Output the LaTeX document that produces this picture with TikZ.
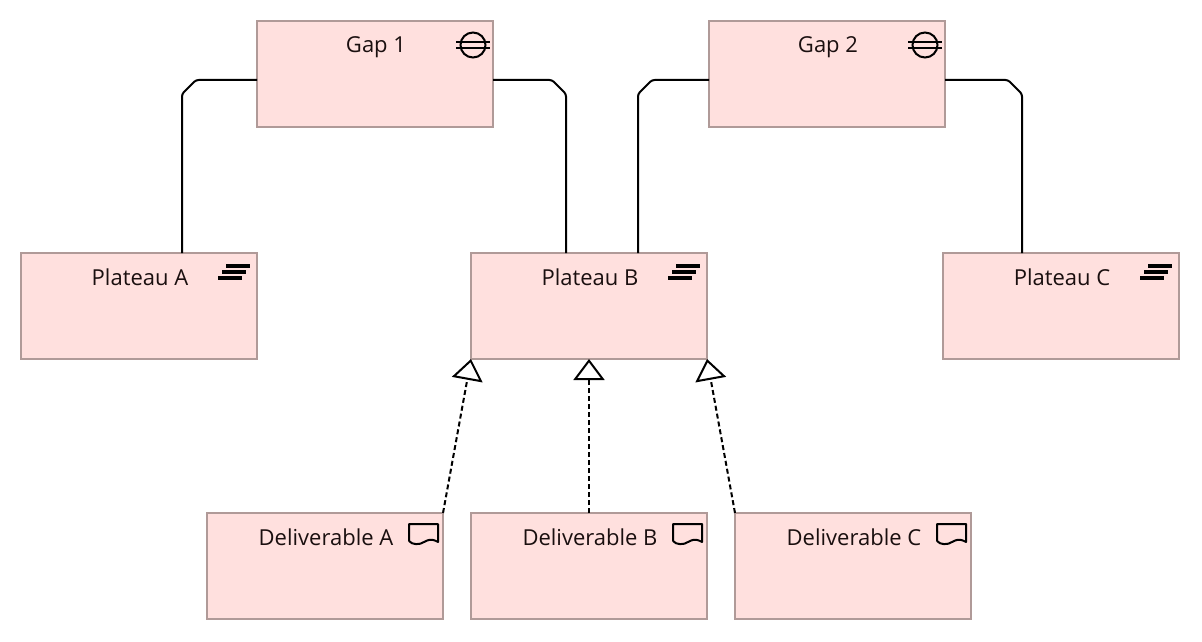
\documentclass[tikz,border=0pt]{standalone}
\usepackage{fontspec}
\setmainfont{Open Sans}
\usetikzlibrary{arrows.meta,calc}
\definecolor{boxfill}{HTML}{FFE0DE}
\definecolor{boxline}{HTML}{B09A98}
\definecolor{txt}{HTML}{1A0F0F}
\tikzset{
  element/.style={draw=boxline,fill=boxfill,line width=2.4pt,minimum width=236pt,minimum height=106pt,inner sep=0pt,outer sep=0pt,anchor=north west},
  lab/.style={anchor=north,xshift=1pt,yshift=-15.5pt,inner sep=0pt,font=\fontsize{22}{25}\selectfont,text=txt},
  assoc/.style={draw=black,line width=2pt,rounded corners=2.5pt,line join=round},
  realize/.style={draw=black,line width=2pt,dash pattern=on 5pt off 3pt,-{Triangle[open,length=21pt,width=31pt,line width=2pt,fill=white,sep=0pt]}},
  gapicon/.pic={
    \draw[black,line width=2pt] (-20,24) circle[radius=12.5];
    \draw[black,line width=2pt] (-37,21)--(-3,21) (-37,27)--(-3,27);
  },
  plateauicon/.pic={
    \fill[black] (-31,11) rectangle (-7,15);
    \fill[black] (-35,17) rectangle (-11,21);
    \fill[black] (-39,23) rectangle (-15,27);
  },
  delivicon/.pic={
    \draw[black,line width=2pt,line join=round] (-34,28) -- (-34,11) -- (-5,11) -- (-5,29) .. controls (-12,25) and (-15,27) .. (-19,29) .. controls (-23,32) and (-31,32) .. (-34,28);
  }
}
\begin{document}
\begin{tikzpicture}[x=1pt,y=-1pt]
\useasboundingbox (0,0) rectangle (1202,642);
\fill[white] (0,0) rectangle (1202,642);

\node[element,label={[lab]north:Gap 1}] (g1) at (257,21) {};
\node[element,label={[lab]north:Gap 2}] (g2) at (709,21) {};
\node[element,label={[lab]north:Plateau A}] (pa) at (21,253) {};
\node[element,label={[lab]north:Plateau B}] (pb) at (471,253) {};
\node[element,label={[lab]north:Plateau C}] (pc) at (943,253) {};
\node[element,label={[lab]north:Deliverable A}] (da) at (207,513) {};
\node[element,label={[lab]north:Deliverable B}] (db) at (471,513) {};
\node[element,label={[lab]north:Deliverable C}] (dc) at (735,513) {};

\pic at (g1.north east) {gapicon};
\pic at (g2.north east) {gapicon};
\pic at (pa.north east) {plateauicon};
\pic at (pb.north east) {plateauicon};
\pic at (pc.north east) {plateauicon};
\pic at (da.north east) {delivicon};
\pic at (db.north east) {delivicon};
\pic at (dc.north east) {delivicon};

\coordinate (g1l) at ($(g1.west)+(0,6)$);
\coordinate (g1r) at ($(g1.east)+(0,6)$);
\coordinate (g2l) at ($(g2.west)+(0,6)$);
\coordinate (g2r) at ($(g2.east)+(0,6)$);
\coordinate (paT) at ($(pa.north)+(43,0)$);
\coordinate (pbL) at ($(pb.north)+(-23,0)$);
\coordinate (pbR) at ($(pb.north)+(49,0)$);
\coordinate (pcT) at ($(pc.north)+(-39,0)$);

\draw[assoc] (g1l) -- ++(-61,0) -- ++(-14,14) -- (paT);
\draw[assoc] (g1r) -- ++(59,0) -- ++(14,14) -- (pbL);
\draw[assoc] (g2l) -- ++(-57,0) -- ++(-14,14) -- (pbR);
\draw[assoc] (g2r) -- ++(63,0) -- ++(14,14) -- (pcT);

\draw[realize] (da.north east) -- (pb.south west);
\draw[realize] (db.north) -- (pb.south);
\draw[realize] (dc.north west) -- (pb.south east);
\end{tikzpicture}
\end{document}
